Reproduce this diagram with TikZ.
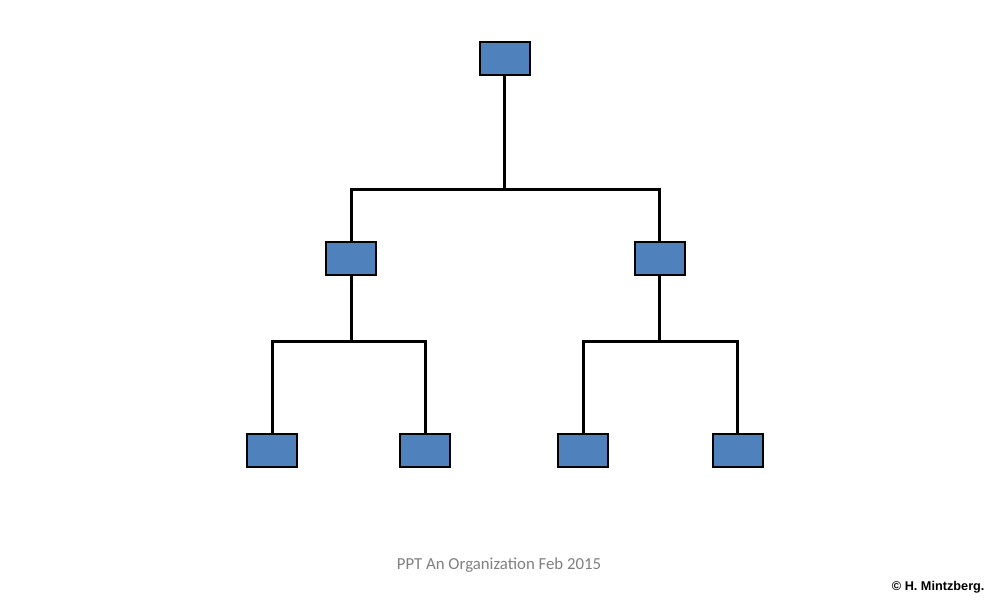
\documentclass[tikz,border=0pt]{standalone}
\usepackage{fontspec}
\setmainfont{Carlito}
\newfontfamily\arialfont{Liberation Sans}
\definecolor{boxblue}{HTML}{4F81BD}
\definecolor{captiongray}{HTML}{7F7F7F}
\begin{document}
\begin{tikzpicture}[x=1pt,y=-1pt,
  orgbox/.style={draw=black,line width=2pt,fill=boxblue,minimum width=50pt,minimum height=33pt,inner sep=0pt},
  link/.style={line width=3pt,draw=black}]
\useasboundingbox (0,0) rectangle (1000,600);
\node[orgbox] (top) at (504.5,58) {};
\node[orgbox] (m1) at (351,258) {};
\node[orgbox] (m2) at (659.5,258) {};
\node[orgbox] (b1) at (272,450) {};
\node[orgbox] (b2) at (425,450) {};
\node[orgbox] (b3) at (583,450) {};
\node[orgbox] (b4) at (737.5,450) {};
\coordinate (j1) at (504.5,189);
\coordinate (j2) at (351,341);
\coordinate (j3) at (659.5,341);
\draw[link] (top.south) -- (j1);
\draw[link] (m1.north) |- (j1) -| (m2.north);
\draw[link] (m1.south) -- (j2);
\draw[link] (b1.north) |- (j2) -| (b2.north);
\draw[link] (m2.south) -- (j3);
\draw[link] (b3.north) |- (j3) -| (b4.north);
\node[text=captiongray,font=\fontsize{16.8}{20}\selectfont] (cap) at (499,565) {PPT An Organization Feb 2015};
\node[font=\arialfont\bfseries\fontsize{12.7}{15}\selectfont,anchor=east] (copy) at (988,587) {© H. Mintzberg.};
\end{tikzpicture}
\end{document}
